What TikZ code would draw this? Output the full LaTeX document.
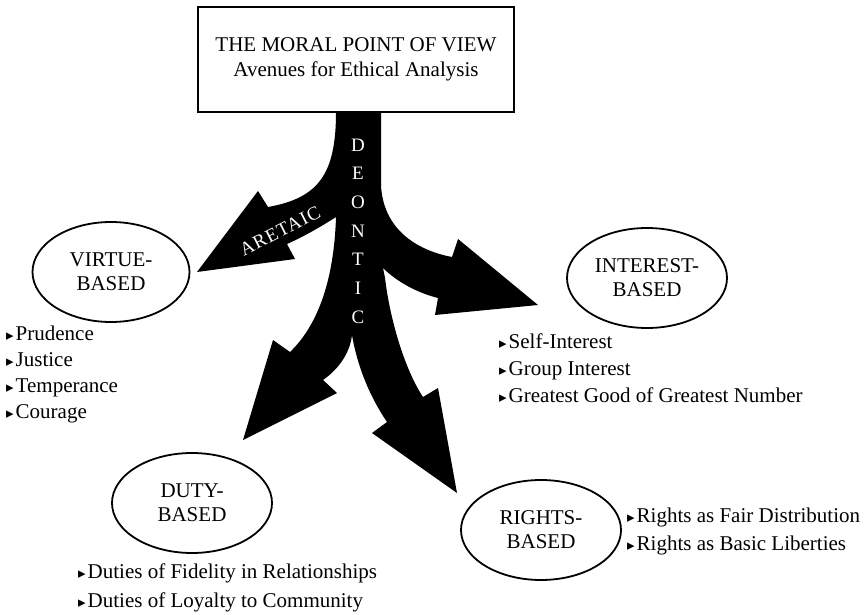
\documentclass[tikz,border=0pt]{standalone}
\usepackage{fontspec}
\setmainfont{Liberation Serif}
\newfontfamily\symfont{DejaVu Sans}
\usetikzlibrary{shapes.geometric}
\newcommand\bul{{\symfont\fontsize{15}{15}\selectfont ▸}\hspace{2pt}}
\begin{document}
\begin{tikzpicture}[x=1pt,y=-1pt,
  titlebox/.style={draw, line width=2pt, fill=white, minimum width=316pt, minimum height=105pt,
    align=center, inner sep=0pt, font=\fontsize{21}{25}\selectfont},
  oval/.style={ellipse, draw, line width=1.8pt, minimum width=160pt, minimum height=100pt,
    inner sep=0pt, align=center, font=\fontsize{21}{24}\selectfont},
  item/.style={anchor=base west, inner sep=0pt, font=\fontsize{21}{24}\selectfont},
  branch/.style={fill=black},
  branchlabel/.style={text=white, inner sep=0pt}]
\useasboundingbox (0,0) rectangle (867,615);

% the branching arrows
\fill[branch] (336,112) .. controls (336,175) and (318,198) .. (268,207) -- (258,191) -- (197,272)
  -- (295,259) -- (287,244) .. controls (305,236) and (322,226) .. (336,217)
  .. controls (334,280) and (318,325) .. (290,352) -- (273,340) -- (243,440) -- (337,393) -- (323,380)
  .. controls (340,368) and (350,352) .. (352,335)
  .. controls (358,370) and (372,400) .. (387,422) -- (372,433) -- (457,493) -- (438,388) -- (423,397)
  .. controls (405,370) and (390,320) .. (385,278) -- (383,268)
  .. controls (397,282) and (418,293) .. (438,298) -- (435,315) -- (538,305) -- (458,239) -- (452,257)
  .. controls (415,250) and (383,228) .. (381,185) -- (381,112) -- cycle;

\node[titlebox] (title) at (356,59.5) {THE MORAL POINT OF VIEW\\Avenues for Ethical Analysis};

\node[branchlabel, align=center, font=\fontsize{19}{28.7}\selectfont] (deontic) at (358,231) {D\\E\\O\\N\\T\\I\\C};
\node[branchlabel, rotate=27, font=\fontsize{19}{19}\selectfont\addfontfeatures{LetterSpace=6}] (aretaic) at (280,231) {ARETAIC};

\node[oval, minimum width=157pt] (virtue) at (111,272) {VIRTUE-\\BASED};
\node[oval] (interest) at (647,278) {INTEREST-\\BASED};
\node[oval] (duty) at (192,503) {DUTY-\\BASED};
\node[oval] (rights) at (541,530) {RIGHTS-\\BASED};

\node[item] (v1) at (6,340) {\bul Prudence};
\node[item] (v2) at (6,366) {\bul Justice};
\node[item] (v3) at (6,392) {\bul Temperance};
\node[item] (v4) at (6,418) {\bul Courage};

\node[item] (i1) at (499,348) {\bul Self-Interest};
\node[item] (i2) at (499,375) {\bul Group Interest};
\node[item] (i3) at (499,402) {\bul Greatest Good of Greatest Number};

\node[item] (r1) at (627,522) {\bul Rights as Fair Distribution};
\node[item] (r2) at (627,550) {\bul Rights as Basic Liberties};

\node[item] (d1) at (78,578) {\bul Duties of Fidelity in Relationships};
\node[item] (d2) at (78,607) {\bul Duties of Loyalty to Community};
\end{tikzpicture}
\end{document}
